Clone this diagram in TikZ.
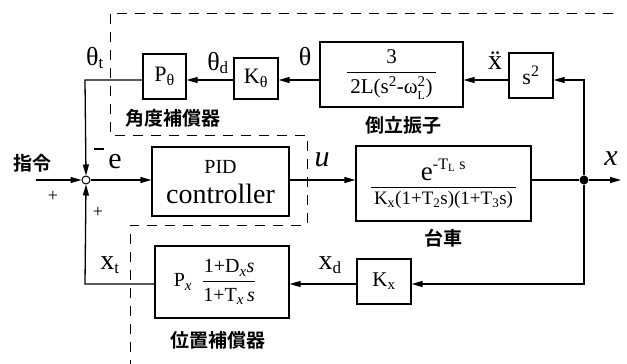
\documentclass[tikz,border=0pt]{standalone}
\usepackage{amsmath}
\usepackage{fontspec}
\setmainfont{Liberation Serif}
\newfontfamily\cjk[UprightFont=* Bold]{Noto Sans CJK JP}
\usetikzlibrary{arrows.meta}
\newcommand\fs[1]{\fontsize{#1}{#1}\selectfont}
\newcommand\sub[2][14]{\textsubscript{\fs{#1}#2}}
\newcommand\spr[2][14]{\textsuperscript{\fs{#1}#2}}
\newcommand\fr[2]{$\genfrac{}{}{1.1pt}{0}{\text{#1}}{\text{#2}}$}
\begin{document}
\begin{tikzpicture}[x=1pt,y=-1pt,
  line width=1.3pt,
  blk/.style={draw, line width=1.2pt, inner sep=0pt},
  arr/.style={-{Triangle[length=11pt,width=6pt]}},
  lbl/.style={inner sep=0pt, font=\fs{26}},
  jp/.style={inner sep=0pt, font=\cjk\fs{19}},
  dsh/.style={line width=0.8pt, dash pattern=on 10pt off 8pt}]
\useasboundingbox (0,0) rectangle (627,364);
% blocks
\node[blk, minimum width=43pt, minimum height=45pt, font=\fs{22}] (Pt) at (164.5,76.5) {P\sub[16]{θ}};
\node[blk, minimum width=44pt, minimum height=41pt, font=\fs{22}] (Kt) at (256,78.5) {K\sub[16]{θ}};
\node[blk, minimum width=143pt, minimum height=65pt, font=\fs{20}] (pend) at (391.5,74.5) {\fr{\fs{21}3}{\fs{21}\,2L(s\spr[15]{2}-$\text{ω}_{\text{\fs{12}L}}^{\text{\fs{15}2}}$)\,}};
\node[blk, minimum width=44pt, minimum height=45pt, font=\fs{22}] (s2) at (531,75.5) {s\spr[16]{2}};
\node[blk, minimum width=137pt, minimum height=69pt, align=center] (pid) at (220.5,181.5) {};
\node[inner sep=0pt, font=\fs{20}] (pidt) at (220.5,167) {PID};
\node[inner sep=0pt, font=\fs{28}] (pidc) at (220.5,194) {controller};
\node[blk, minimum width=175pt, minimum height=75pt, font=\fs{19}] (plant) at (443.5,183.5) {\fr{\fs{27}e\raisebox{2pt}{\spr[16]{-T\sub[11]{L} s}}}{\fs{19}\,K\sub[14]{x}(1+T\sub[13]{2}s)(1+T\sub[13]{3}s)\,}};
\node[blk, minimum width=54pt, minimum height=45pt, font=\fs{21}] (Kx) at (384,281.5) {K\sub[15]{x}};
\node[blk, minimum width=134pt, minimum height=72pt] (comp) at (222,282) {};
\node[inner sep=0pt, font=\fs{20}] (compt) at (215,282) {P\sub[15]{\itshape x}\ \ \fr{\fs{20}1+D\sub[15]{\itshape x}\textit{s}}{\fs{20}1+T\sub[15]{\itshape x}\,\textit{s}}};
\node[draw, circle, line width=1pt, minimum size=8pt, inner sep=0pt, fill=white] (sum) at (86,180) {};
\node[fill, circle, minimum size=9pt, inner sep=0pt] (dot) at (584,180) {};
\coordinate (in) at (36,180);
\coordinate (out) at (621,180);
\coordinate (tr) at (584,80);
\coordinate (br) at (584,284);
\coordinate (tl) at (85,80);
\coordinate (bl) at (85,284);
% connectors
\draw[arr] (s2.west |- tr) -- (pend.east |- tr);
\draw[arr] (pend.west |- tr) -- (Kt.east |- tr);
\draw[arr] (Kt.west |- tr) -- (Pt.east |- tr);
\draw[arr] (Pt.west |- tr) -- (tl) -- (sum.north);
\draw[arr] (in) -- (sum.west);
\draw[arr] (sum.east) -- (pid.west |- sum);
\draw[arr] (pid.east |- sum) -- (plant.west |- sum);
\draw (plant.east |- sum) -- (dot);
\draw[arr] (dot) -- (out);
\draw[arr] (dot) -- (tr) -- (s2.east |- tr);
\draw[arr] (dot) -- (br) -- (Kx.east |- br);
\draw[arr] (Kx.west |- br) -- (comp.east |- br);
\draw[arr] (comp.west |- br) -- (bl) -- (sum.south);
% dashed boundary
\draw[dsh] (613,13) -- (110,13) -- (110,135) -- (307,135) -- (307,225) -- (130,225) -- (130,364);
% labels
\node[lbl] (lth) at (95,58) {θ\sub[17]{t}};
\node[lbl] (lthd) at (218,63) {θ\sub[17]{d}};
\node[lbl] (lthe) at (305,57) {θ};
\node[lbl, font=\fs{28}] (lxdd) at (495,61) {ẍ};
\node[lbl, font=\fs{30}] (le) at (115,162) {e};
\node[lbl, font=\fs{30}\itshape] (lu) at (322,160) {u};
\node[lbl, font=\fs{30}\itshape] (lx) at (611,159) {x};
\node[lbl, font=\fs{28}] (lxd) at (330,265) {x\sub[17]{d}};
\node[lbl, font=\fs{28}] (lxt) at (110,265) {x\sub[17]{t}};
\node[lbl, font=\fs{18}] (pl1) at (53,196) {+};
\node[lbl, font=\fs{18}] (pl2) at (98,212) {+};
\draw[line width=1.6pt] (94,149) -- (104,149);
\node[jp] (j1) at (32,163) {指令};
\node[jp] (j2) at (173,118) {角度補償器};
\node[jp] (j3) at (403,125) {倒立振子};
\node[jp] (j4) at (443,238) {台車};
\node[jp] (j5) at (218,340) {位置補償器};
\end{tikzpicture}
\end{document}
